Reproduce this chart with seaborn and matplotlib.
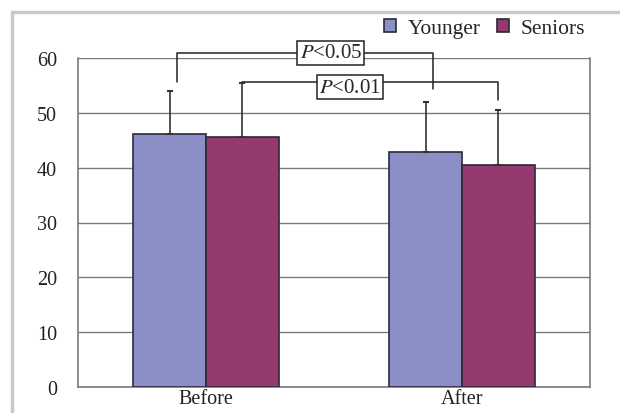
import numpy as np
import pandas as pd
import matplotlib
matplotlib.use("Agg")
import matplotlib.pyplot as plt
import seaborn as sns
from matplotlib.lines import Line2D
from matplotlib.patches import Patch

# data
phases   = ["Before", "After"]
groups   = ["Younger", "Seniors"]
younger  = [46.2, 42.8]
seniors  = [45.6, 40.5]
sd_young = [7.9, 9.3]
sd_sen   = [9.9, 10.1]
colors   = ["#8B8FC6", "#943A6E"]

# significance brackets: (label, from bar, to bar, left foot, top, right foot)
brackets = [
    ("P<0.05", ("Younger", "Before"), ("Younger", "After"), 55.7, 61.0, 54.4),
    ("P<0.01", ("Seniors", "Before"), ("Seniors", "After"), 55.6, 55.6, 52.4),
]
label_frac = [0.60, 0.42]   # where the boxed label sits along each bracket

df = pd.DataFrame({
    "phase": phases * 2,
    "group": [groups[0]] * 2 + [groups[1]] * 2,
    "value": younger + seniors,
    "sd":    sd_young + sd_sen,
})

sns.set_style("white")
plt.rcParams["font.family"] = ["Liberation Serif", "DejaVu Serif"]
plt.rcParams["mathtext.fontset"] = "stix"

fig = plt.figure(figsize=(6.2, 4.14), dpi=100)
ax = fig.add_axes([78 / 620, 1 - 387.7 / 414, 512 / 620, 328.4 / 414])

sns.barplot(
    data=df, x="phase", y="value", hue="group", order=phases, hue_order=groups,
    palette=colors, saturation=1, width=0.57, errorbar=None, edgecolor="#2a2a3a",
    linewidth=1.2, ax=ax, legend=False, zorder=3,
)

# bar centres, in the order seaborn drew them (hue-major)
centres = {}
for patch, (_, row) in zip(ax.patches, df.iterrows()):
    cx = patch.get_x() + patch.get_width() / 2
    centres[(row["group"], row["phase"])] = cx
    ax.errorbar(cx, row["value"], yerr=[[0], [row["sd"]]], color="#333333",
                lw=1.2, capsize=2.5, capthick=1.5, zorder=4)

for (label, a, b, y_left, y_top, y_right), frac in zip(brackets, label_frac):
    off = 0.03 if label == "P<0.05" else 0.0
    xa, xb = centres[a] + off, centres[b] + off
    ax.plot([xa, xa, xb, xb], [y_left, y_top, y_top, y_right],
            color="#222222", lw=1.1, clip_on=False, zorder=5)
    xm = xa + frac * (xb - xa)
    ax.text(xm, y_top - (0.0 if label == "P<0.05" else 0.9), "$P$" + label[1:],
            ha="center", va="center", fontsize=15, zorder=6, clip_on=False,
            bbox=dict(boxstyle="square,pad=0.12", fc="white", ec="#222222", lw=1.1))

ax.set_xlim(-0.5, 1.5)
ax.set_ylim(0, 60)
ax.set_yticks(range(0, 61, 10))
ax.yaxis.grid(True, color="#7a7a7a", lw=1.0, zorder=0)
ax.set_xlabel("")
ax.set_ylabel("")
ax.tick_params(axis="both", length=0, labelsize=14.5, colors="#222222")
ax.tick_params(axis="y", pad=15)
ax.tick_params(axis="x", pad=2)
ax.set_xticks([0.5], minor=True)
ax.tick_params(axis="x", which="minor", direction="in", length=3, color="#7a7a7a")
for side in ["left", "right", "bottom"]:
    ax.spines[side].set_color("#7a7a7a")
    ax.spines[side].set_linewidth(1.2)
ax.spines["top"].set_visible(False)

handles = [Patch(fc=c, ec="#2a2a3a", lw=1.2) for c in colors]
fig.legend(handles, groups, loc="upper right", bbox_to_anchor=(0.965, 0.982),
           ncol=2, frameon=False, fontsize=15.5, handlelength=0.55,
           handleheight=0.55, handletextpad=0.55, columnspacing=0.75,
           borderaxespad=0.2)

# outer grey frame of the original figure
fig.add_artist(Line2D([12 / 620, 1.0], [1 - 13 / 414] * 2, color="#c8c8c8", lw=2.5))
fig.add_artist(Line2D([12 / 620] * 2, [0.0, 1 - 13 / 414], color="#c8c8c8", lw=2.5))

fig.savefig("out.png", dpi=100)
